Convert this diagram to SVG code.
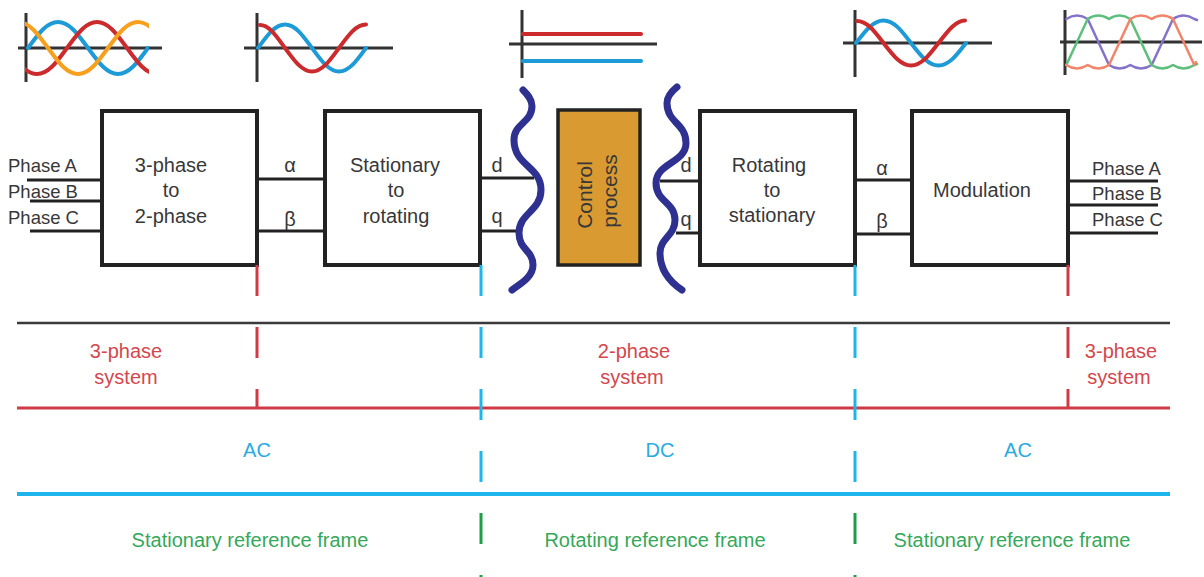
<svg xmlns="http://www.w3.org/2000/svg" width="1204" height="577" viewBox="0 0 1204 577">
<defs>
<clipPath id="clip1"><rect x="25" y="0" width="124" height="100"/></clipPath>
<style>
text{font-family:"Liberation Sans",Arial,Helvetica,sans-serif}
.lbl{font-size:20px;fill:#383838;text-anchor:middle}
.ph{font-size:18.5px;fill:#383838}
.box{fill:#fff;stroke:#222;stroke-width:4}
.wire{stroke:#222;stroke-width:3.2;fill:none}
.axis{stroke:#333;stroke-width:3;fill:none}
.w{fill:none;stroke-width:4;stroke-linecap:round;stroke-linejoin:round}
.w5{fill:none;stroke-width:2.5;stroke-linecap:round;stroke-linejoin:round}
.brace{fill:none;stroke:#2E3190;stroke-width:7;stroke-linecap:round;stroke-linejoin:round}
.rt{font-size:20px;fill:#D4474D;text-anchor:middle}
.bt{font-size:20px;fill:#29ABE2;text-anchor:middle}
.gt{font-size:20px;fill:#35A85A;text-anchor:middle}
.rd{stroke:#CE3A45;stroke-width:3;stroke-dasharray:31 31;fill:none}
.bd{stroke:#1DB5EC;stroke-width:3;stroke-dasharray:31 31;fill:none}
.gd{stroke:#1F9E4A;stroke-width:3;stroke-dasharray:31 31;fill:none}
</style>
</defs>
<rect x="0" y="0" width="1204" height="577" fill="#fff"/>

<!-- waveform icons -->
<g id="icon-3phase-in">
<path class="axis" d="M26,13 V82 M18,48 H162"/>
<g clip-path="url(#clip1)">
<path class="w" stroke="#1E9BD7" d="M28,48 C38,34.4 46.5,22 58,22 C69.5,22 78,34.4 88,48 C98,61.6 106.5,74 118,74 C129.5,74 138,61.6 148,48"/>
<path class="w" stroke="#CC2B2E" d="M7,48 C17,61.6 25.5,74 37,74 C48.5,74 57,61.6 67,48 C77,34.4 85.5,22 97,22 C108.5,22 117,34.4 127,48 C137,61.6 145.5,74 157,74"/>
<path class="w" stroke="#F6A01E" d="M-12,48 C-2,34.4 6.5,22 18,22 C29.5,22 38,34.4 48,48 C58,61.6 66.5,74 78,74 C89.5,74 98,61.6 108,48 C118,34.4 126.5,22 138,22 C149.5,22 158,34.4 168,48"/>
</g>
</g>
<g id="icon-2phase-ac">
<path class="axis" d="M257,13 V82 M244,48 H393"/>
<path class="w" stroke="#1E9BD7" d="M258,48 C267,35.7 274.7,24.5 285,24.5 C295.3,24.5 303,35.7 312,48 C321,60.3 328.7,71.5 339,71.5 C349.3,71.5 357,60.3 366,48"/>
<path class="w" stroke="#CC2B2E" d="M260,25 C269,25 276,35.7 285,48 C294,60.3 301.7,71.5 312,71.5 C322.3,71.5 330,60.3 339,48 C348,35.7 355.7,24.5 366,24.5"/>
</g>
<g id="icon-dc">
<path class="axis" d="M522,10 V78 M509,44 H657"/>
<path class="w" stroke="#CC2B2E" d="M523,34 H641"/>
<path class="w" stroke="#1E9BD7" d="M523,61 H641"/>
</g>
<g id="icon-2phase-out">
<path class="axis" d="M855,10 V77 M843,43 H992"/>
<path class="w" stroke="#1E9BD7" d="M856,43 C865.2,31.2 873,20.5 883.5,20.5 C894,20.5 902,31.2 911,43 C920.2,54.8 928,65.5 938.5,65.5 C949,65.5 957,54.8 966,43"/>
<path class="w" stroke="#CC2B2E" d="M857,21 C867,21 874.5,31.2 883.5,43 C892.7,54.8 900.5,65.5 911,65.5 C921.5,65.5 929.5,54.8 938.5,43 C947.7,31.2 955.5,20.5 965,20.5"/>
</g>
<g id="icon-3phase-out">
<path class="axis" d="M1065,10 V75 M1060,42 H1202"/>
<path class="w5" stroke="#8572C9" d="M1066.3,19 Q1077,12 1087.7,19 L1109,65 Q1119.7,72 1130.3,65 Q1141,72 1151.7,65 L1173,19 Q1183.7,12 1194.3,19 L1197,20"/>
<path class="w5" stroke="#5DBF7B" d="M1066.3,65 L1087.7,19 Q1098.3,12 1109,19 Q1119.7,12 1130.3,19 L1151.7,65 Q1162.3,72 1173,65 Q1183.7,72 1194.3,65 L1197,64"/>
<path class="w5" stroke="#F2846A" d="M1066.3,65 Q1077,72 1087.7,65 Q1098.3,72 1109,65 L1130.3,19 Q1141,12 1151.7,19 Q1162.3,12 1173,19 L1194.3,65 L1196,62"/>
</g>

<!-- connectors -->
<g id="connectors">
<path class="wire" d="M27,180 H102 M30,201 H102 M30,231 H102"/>
<path class="wire" d="M257,179 H325 M257,231 H325"/>
<path class="wire" d="M480,178 H534 M480,231 H518"/>
<path class="wire" d="M660,181 H700 M676,233 H700"/>
<path class="wire" d="M855,180 H912 M855,234 H912"/>
<path class="wire" d="M1068,181 H1158 M1068,205 H1158 M1068,233 H1158"/>
<path class="brace" d="M523,90 C527,94 532,99 532,106 C532,123 514,123 514,140 C514,166 541,166 541,190 C541,211 519,213 519,233 C519,250 533,250 533,265 C533,278 518,285 512,290"/>
<path class="brace" d="M677,87 C672,91 667,96 667,103 C667,123 686,123 686,143 C686,163 656,163 656,183 C656,202 675,202 675,220 C675,236 660,238 660,253 C660,270 670,282 682,290"/>
</g>

<!-- input / output labels -->
<g id="inputs">
<text class="ph" x="8" y="172">Phase A</text>
<text class="ph" x="8" y="198">Phase B</text>
<text class="ph" x="8" y="224">Phase C</text>
</g>
<g id="outputs">
<text class="ph" x="1092" y="175">Phase A</text>
<text class="ph" x="1092" y="200">Phase B</text>
<text class="ph" x="1092" y="226">Phase C</text>
</g>

<g id="box-3to2">
<rect class="box" x="102" y="111" width="155" height="154"/>
<text class="lbl" x="171" y="172">3-phase</text>
<text class="lbl" x="171" y="197">to</text>
<text class="lbl" x="171" y="223">2-phase</text>
</g>
<g id="alpha-beta-in">
<text class="lbl" x="290" y="172">α</text>
<text class="lbl" x="290" y="226">β</text>
</g>
<g id="box-stat2rot">
<rect class="box" x="325" y="111" width="155" height="154"/>
<text class="lbl" x="395" y="172">Stationary</text>
<text class="lbl" x="396" y="197">to</text>
<text class="lbl" x="396" y="223">rotating</text>
</g>
<g id="dq-in">
<text class="lbl" x="497" y="172">d</text>
<text class="lbl" x="497" y="223">q</text>
</g>
<g id="box-control">
<rect x="558" y="110" width="82" height="155" fill="#DA9A32" stroke="#222" stroke-width="3.5"/>
<text class="lbl" font-size="21" transform="translate(592,195) rotate(-90)" style="font-size:21px">Control</text>
<text class="lbl" transform="translate(617,191) rotate(-90)" style="font-size:21px">process</text>
</g>
<g id="dq-out">
<text class="lbl" x="686" y="172">d</text>
<text class="lbl" x="686" y="226">q</text>
</g>
<g id="box-rot2stat">
<rect class="box" x="700" y="111" width="155" height="154"/>
<text class="lbl" x="769" y="172">Rotating</text>
<text class="lbl" x="772" y="197">to</text>
<text class="lbl" x="772" y="222">stationary</text>
</g>
<g id="alpha-beta-out">
<text class="lbl" x="882" y="175">α</text>
<text class="lbl" x="882" y="228">β</text>
</g>
<g id="box-modulation">
<rect class="box" x="912" y="111" width="156" height="154"/>
<text class="lbl" x="982" y="197">Modulation</text>
</g>

<!-- bottom bands -->
<g id="bands">
<line x1="17" y1="323" x2="1170" y2="323" stroke="#3a3a3a" stroke-width="2.5"/>
<line x1="17" y1="408" x2="1170" y2="408" stroke="#CE3A45" stroke-width="3"/>
<line x1="17" y1="494" x2="1170" y2="494" stroke="#1DB5EC" stroke-width="4"/>
<line class="rd" x1="257" y1="265" x2="257" y2="408"/>
<line class="rd" x1="1068" y1="265" x2="1068" y2="408"/>
<line class="bd" x1="481" y1="265" x2="481" y2="494"/>
<line class="bd" x1="855" y1="265" x2="855" y2="494"/>
<line class="gd" x1="481" y1="513" x2="481" y2="577"/>
<line class="gd" x1="855" y1="513" x2="855" y2="577"/>
</g>
<g id="band-labels">
<text class="rt" x="126" y="358">3-phase</text>
<text class="rt" x="126" y="384">system</text>
<text class="rt" x="634" y="358">2-phase</text>
<text class="rt" x="632" y="384">system</text>
<text class="rt" x="1121" y="358">3-phase</text>
<text class="rt" x="1119" y="384">system</text>
<text class="bt" x="257" y="457">AC</text>
<text class="bt" x="660" y="457">DC</text>
<text class="bt" x="1018" y="457">AC</text>
<text class="gt" x="250" y="547">Stationary reference frame</text>
<text class="gt" x="655" y="547">Rotating reference frame</text>
<text class="gt" x="1012" y="547">Stationary reference frame</text>
</g>
</svg>
